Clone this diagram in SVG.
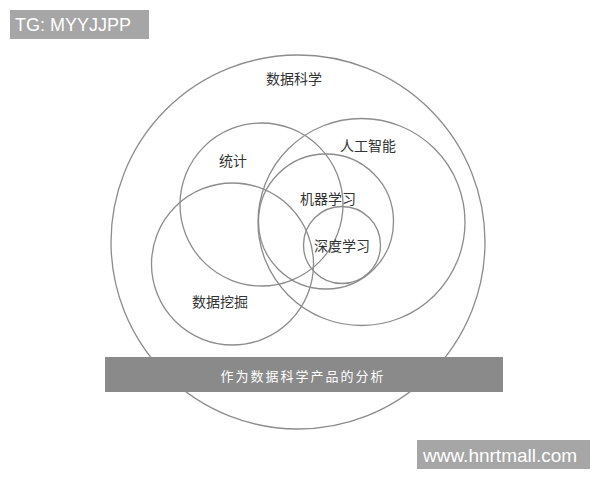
<svg xmlns="http://www.w3.org/2000/svg" width="600" height="480" viewBox="0 0 600 480">
<style>
.c{fill:none;stroke:#8c8c8c;stroke-width:1.3}
.t{font-family:"Noto Sans CJK SC","Noto Sans",sans-serif;font-size:14px;fill:#333;text-anchor:middle;dominant-baseline:central}
.w{font-family:"Liberation Sans",Arial,sans-serif;font-size:18px;fill:#fff}
</style>
<rect width="600" height="480" fill="#fff"/>
<g id="data-science"><circle class="c" cx="298" cy="242" r="187"/><text class="t" x="294" y="78">数据科学</text></g>
<g id="statistics"><circle class="c" cx="261.5" cy="204.5" r="81.5"/><text class="t" x="233" y="160">统计</text></g>
<g id="data-mining"><circle class="c" cx="232.5" cy="264" r="81"/><text class="t" x="220" y="301">数据挖掘</text></g>
<g id="ai"><circle class="c" cx="361.5" cy="222" r="103.5"/><text class="t" x="368" y="145">人工智能</text></g>
<g id="ml"><circle class="c" cx="326" cy="221.5" r="67.5"/><text class="t" x="328" y="198">机器学习</text></g>
<g id="dl"><circle class="c" cx="342" cy="245" r="38.5"/><text class="t" x="342" y="245">深度学习</text></g>
<g id="banner"><rect x="105" y="357" width="398" height="35" fill="#8a8a8a"/><text class="t" x="303" y="375" style="fill:#fff;font-size:13px;letter-spacing:2px">作为数据科学产品的分析</text></g>
<g id="wm1"><rect x="10" y="10" width="139" height="29" fill="#a6a6a6"/><text class="w" x="15" y="31">TG: MYYJJPP</text></g>
<g id="wm2"><rect x="417" y="440" width="173" height="29" fill="#a6a6a6"/><text class="w" x="423" y="462" style="font-size:19px">www.hnrtmall.com</text></g>
<g id="connectors"></g>
</svg>
